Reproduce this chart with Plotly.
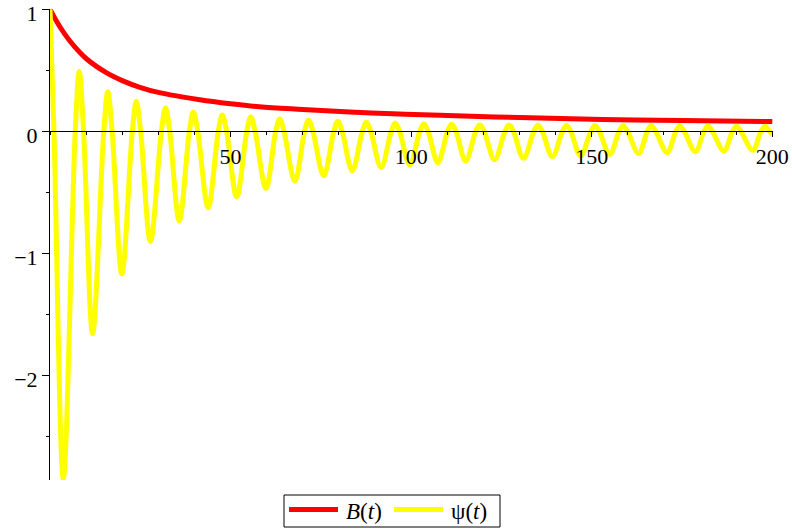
import plotly.graph_objects as go

# ---- data ----
# B(t): smooth decaying curve
B_t = [0, 1.85, 4, 6.45, 10, 15.7, 20, 24.9, 30, 41.5, 50, 58, 70, 83, 95, 108, 130, 153, 175, 200]
B_v = [1.0, 0.90, 0.80, 0.705, 0.596, 0.478, 0.415, 0.36, 0.318, 0.258, 0.225, 0.20, 0.178, 0.157,
       0.143, 0.13, 0.112, 0.096, 0.087, 0.079]

# psi(t): local maxima, minima and zero crossings
psi_ends = [(0.0, 1.0), (200.0, -0.03)]
peak_t = [8.1, 16.0, 23.9, 32.0, 39.7, 47.7, 55.6, 63.6, 71.6, 79.7, 87.6, 95.6, 103.5, 111.2,
          119.0, 127.1, 135.1, 143.0, 150.9, 158.7, 166.5, 174.4, 182.2, 190.1, 198.0]
peak_v = [0.49, 0.324, 0.245, 0.193, 0.157, 0.133, 0.116, 0.100, 0.090, 0.081, 0.073, 0.067,
          0.062, 0.057, 0.053, 0.050, 0.048, 0.047, 0.046, 0.045, 0.044, 0.043, 0.042, 0.041, 0.040]
trough_t = [3.7, 11.8, 19.9, 27.8, 35.8, 43.8, 51.7, 59.8, 67.8, 75.8, 83.7, 91.7, 99.6, 107.4,
            115.1, 123.1, 131.1, 139.1, 146.9, 155.0, 163.0, 170.9, 178.7, 186.6, 194.6]
trough_v = [-2.85, -1.66, -1.17, -0.905, -0.734, -0.627, -0.539, -0.470, -0.410, -0.365, -0.325,
            -0.297, -0.275, -0.258, -0.244, -0.234, -0.222, -0.210, -0.202, -0.190, -0.182,
            -0.175, -0.168, -0.162, -0.157]
zero_t = [1.1, 7.0, 9.3, 14.9, 17.2, 22.8, 25.1, 30.85, 33.15, 38.6, 40.9, 46.6, 48.9, 54.5, 56.8,
          62.5, 64.8, 70.5, 72.8, 78.6, 80.9, 86.5, 88.8, 94.5, 96.8, 102.4, 104.7, 110.1, 112.4,
          117.9, 120.2, 126.0, 128.3, 134.0, 136.3, 141.9, 144.2, 149.8, 152.1, 157.6, 159.9,
          165.4, 167.7, 173.3, 175.6, 181.1, 183.4, 189.0, 191.3, 196.9, 199.2]

series_names = ["<i>B</i>(<i>t</i>)", "\u03c8(<i>t</i>)"]
series_colors = ["#ff0000", "#ffff00"]

x_tickvals = [50, 100, 150, 200]
y_tickvals = [-2, -1, 0, 1]
y_ticktext = ["\u22122", "\u22121", "0", "1"]

pts = psi_ends + list(zip(peak_t, peak_v)) + list(zip(trough_t, trough_v)) + [(t, 0.0) for t in zero_t]
pts.sort(key=lambda p: p[0])
psi_t = [p[0] for p in pts]
psi_v = [p[1] for p in pts]

W, H = 792, 531
ML, MR, MT, MB = 50, 19, 9, 51
y_min, y_max = -2.86, 1.002
font = "Liberation Serif"

fig = go.Figure()
fig.add_trace(go.Scatter(x=B_t, y=B_v, mode="lines", name=series_names[0], showlegend=False,
                         line=dict(color=series_colors[0], width=5, shape="spline", smoothing=1)))
fig.add_trace(go.Scatter(x=psi_t, y=psi_v, mode="lines", name=series_names[1], showlegend=False,
                         line=dict(color=series_colors[1], width=5, shape="spline", smoothing=1)))

# ---- boxed legend below the plot (pixel layout converted to paper coords) ----
pw, ph = W - ML - MR, H - MT - MB
def px(X):
    return (X - ML) / pw
def py(Y):
    return (H - MB - Y) / ph

shapes = [dict(type="rect", xref="paper", yref="paper", x0=px(284), x1=px(500), y0=py(527), y1=py(495),
               line=dict(color="black", width=1), fillcolor="white", layer="above")]
annotations = []
item_x = [289, 394]
for i, (nm, col) in enumerate(zip(series_names, series_colors)):
    x0 = item_x[i]
    shapes.append(dict(type="line", xref="paper", yref="paper", x0=px(x0), x1=px(x0 + 49),
                       y0=py(509.5), y1=py(509.5), line=dict(color=col, width=5), layer="above"))
    annotations.append(dict(text=nm, xref="paper", yref="paper", x=px(x0 + 55), y=py(511),
                            xanchor="left", yanchor="middle", showarrow=False,
                            font=dict(family=font, size=23, color="black")))

fig.update_layout(
    width=W, height=H,
    margin=dict(l=ML, r=MR, t=MT, b=MB, autoexpand=False),
    plot_bgcolor="white", paper_bgcolor="white",
    font=dict(family=font, size=20, color="black"),
    showlegend=False,
    shapes=shapes, annotations=annotations,
    xaxis=dict(range=[0, 200.2], anchor="free", position=(0 - y_min) / (y_max - y_min),
               showline=True, linecolor="black", linewidth=1,
               ticks="outside", ticklen=5, tickcolor="black", tickwidth=1,
               tickvals=x_tickvals, showgrid=False, zeroline=False, automargin=False,
               ticklabeloverflow="allow",
               tickfont=dict(family=font, size=22, color="black"),
               minor=dict(tickmode="linear", tick0=0, dtick=10, ticks="outside",
                          ticklen=3, tickcolor="black", showgrid=False)),
    yaxis=dict(range=[y_min, y_max], showline=True, linecolor="black", linewidth=1,
               ticks="outside", ticklen=7, tickcolor="black", tickwidth=1,
               tickvals=y_tickvals, ticktext=y_ticktext, showgrid=False, zeroline=False,
               automargin=False, ticklabeloverflow="allow", ticklabelshift=4,
               tickfont=dict(family=font, size=22, color="black"),
               minor=dict(tickmode="linear", tick0=0, dtick=0.5, ticks="outside",
                          ticklen=3, tickcolor="black", showgrid=False)),
)

fig.write_html("out.html", config={"displayModeBar": False})
